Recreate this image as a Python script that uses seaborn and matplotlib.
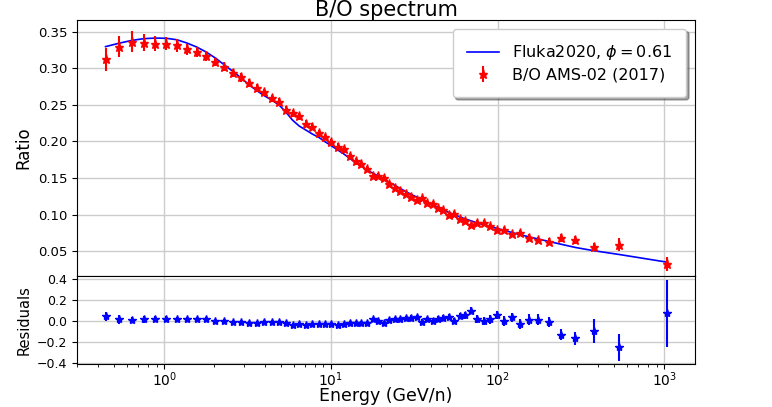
import numpy as np
import pandas as pd
import matplotlib
matplotlib.use("Agg")
import matplotlib.pyplot as plt
import seaborn as sns

# ---------------- data ----------------
energy = [0.445, 0.535, 0.637, 0.754, 0.885, 1.030, 1.192, 1.371, 1.569, 1.788,
          2.029, 2.290, 2.576, 2.888, 3.225, 3.591, 3.988, 4.415, 4.883, 5.377,
          5.896, 6.465, 7.085, 7.756, 8.476, 9.247, 10.07, 10.97, 11.94, 12.96,
          14.06, 15.23, 16.48, 17.82, 19.27, 20.82, 22.47, 24.24, 26.14, 28.16,
          30.33, 32.68, 35.20, 37.90, 40.80, 43.92, 47.29, 51.04, 55.03, 59.28,
          64.02, 69.51, 75.75, 82.74, 90.72, 99.71, 109.9, 121.9, 136.3, 154.0,
          175.9, 203.5, 239.7, 293.4, 380.1, 533.9, 1034.7]

bo_ratio = [0.312, 0.3296, 0.3360, 0.3350, 0.3337, 0.3337, 0.3312, 0.3262, 0.3224, 0.3167,
            0.3085, 0.3023, 0.2941, 0.2874, 0.2800, 0.2736, 0.2671, 0.2590, 0.2538, 0.2433,
            0.2385, 0.2345, 0.2243, 0.2200, 0.2111, 0.2058, 0.1988, 0.1930, 0.1891, 0.1799,
            0.1726, 0.1688, 0.1629, 0.1534, 0.1525, 0.1505, 0.1423, 0.1364, 0.1328, 0.1282,
            0.1238, 0.1198, 0.1223, 0.1160, 0.1143, 0.1084, 0.1057, 0.0993, 0.1014, 0.0946,
            0.0917, 0.0851, 0.0880, 0.0885, 0.0837, 0.0783, 0.0792, 0.0733, 0.0747, 0.0685,
            0.0653, 0.0631, 0.0685, 0.0653, 0.0557, 0.0590, 0.0322]

bo_err = [0.0157, 0.0148, 0.0143, 0.0118, 0.0107, 0.0093, 0.0086, 0.0075, 0.0068, 0.0064,
          0.0060, 0.0060, 0.0055, 0.0055, 0.0055, 0.0055, 0.0052, 0.0050, 0.0050, 0.0050,
          0.0048, 0.0048, 0.0046, 0.0046, 0.0045, 0.0045, 0.0044, 0.0044, 0.0043, 0.0043,
          0.0042, 0.0042, 0.0041, 0.0041, 0.0040, 0.0040, 0.0038, 0.0038, 0.0037, 0.0037,
          0.0036, 0.0036, 0.0036, 0.0036, 0.0036, 0.0036, 0.0036, 0.0036, 0.0037, 0.0037,
          0.0038, 0.0038, 0.0039, 0.0039, 0.0040, 0.0040, 0.0041, 0.0042, 0.0043, 0.0045,
          0.0046, 0.0048, 0.0055, 0.0060, 0.0057, 0.0084, 0.0100]

residual = [0.048, 0.016, 0.010, 0.016, 0.020, 0.017, 0.016, 0.018, 0.016, 0.015,
            0.005, 0.000, -0.010, -0.012, -0.015, -0.015, -0.012, -0.010, -0.012, -0.022,
            -0.038, -0.025, -0.038, -0.032, -0.030, -0.030, -0.030, -0.035, -0.030, -0.015,
            -0.022, -0.015, -0.022, 0.015, 0.000, -0.015, 0.010, 0.020, 0.020, 0.026,
            0.030, 0.035, -0.005, 0.015, 0.000, 0.020, 0.026, 0.040, 0.000, 0.048,
            0.054, 0.100, 0.024, 0.000, 0.015, 0.057, 0.000, 0.035, -0.030, 0.013,
            0.013, -0.010, -0.130, -0.165, -0.095, -0.250, 0.074]

residual_err = [0.043, 0.040, 0.033, 0.032, 0.032, 0.028, 0.025, 0.022, 0.020, 0.020,
                0.018, 0.018, 0.018, 0.018, 0.018, 0.018, 0.018, 0.018, 0.018, 0.018,
                0.018, 0.018, 0.018, 0.018, 0.018, 0.018, 0.018, 0.018, 0.018, 0.018,
                0.018, 0.018, 0.018, 0.018, 0.020, 0.020, 0.020, 0.020, 0.022, 0.022,
                0.024, 0.024, 0.025, 0.025, 0.026, 0.027, 0.028, 0.030, 0.031, 0.032,
                0.034, 0.036, 0.038, 0.040, 0.042, 0.042, 0.044, 0.046, 0.048, 0.050,
                0.050, 0.050, 0.055, 0.063, 0.110, 0.130, 0.318]

model_energy = [0.445, 0.535, 0.637, 0.754, 0.885, 1.030, 1.192, 1.371, 1.569, 1.788,
                2.029, 2.290, 2.576, 2.888, 3.225, 3.591, 3.988, 4.415, 4.883, 5.377,
                5.896, 6.465, 7.085, 7.756, 8.476, 9.247, 10.07, 11.94, 14.06, 16.48,
                19.27, 22.47, 26.14, 30.33, 35.20, 40.80, 47.29, 55.03, 64.02, 75.75,
                90.72, 109.9, 136.3, 175.9, 239.7, 293.4, 380.1, 533.9, 1034.7]
model_ratio = [0.3296, 0.3342, 0.3380, 0.3405, 0.3413, 0.3410, 0.3390, 0.3345, 0.3290, 0.3222,
               0.3140, 0.3048, 0.2960, 0.2870, 0.2775, 0.2695, 0.2625, 0.2565, 0.2500, 0.2400,
               0.2290, 0.2210, 0.2155, 0.2100, 0.2055, 0.1995, 0.1940, 0.1830, 0.1710, 0.1610,
               0.1525, 0.1440, 0.1355, 0.1275, 0.1205, 0.1135, 0.1060, 0.0998, 0.0940, 0.0885,
               0.0835, 0.0783, 0.0725, 0.0665, 0.0595, 0.0550, 0.0505, 0.0455, 0.0350]

title = "B/O spectrum"
model_label = r"Fluka2020, $\phi = 0.61$"
data_label = "B/O AMS-02 (2017)"

# ---------------- figure ----------------
plt.rcParams['font.family'] = ['DejaVu Sans']
plt.rcParams['mathtext.fontset'] = 'dejavusans'

fig = plt.figure(figsize=(7.72, 4.07), dpi=100)
ax = fig.add_axes([77/772, 131/407, 618/772, 256/407])
axr = fig.add_axes([77/772, 43/407, 618/772, 88/407], sharex=ax)

grid_kw = dict(color='#cccccc', linewidth=1.0)

model_df = pd.DataFrame({'E': model_energy, 'ratio': model_ratio})
sns.lineplot(data=model_df, x='E', y='ratio', ax=ax, color='blue',
             linewidth=1.2, label=model_label, legend=False, zorder=3)
eb = ax.errorbar(energy, bo_ratio, yerr=bo_err, fmt='*', color='red',
                 ecolor='red', elinewidth=1.5, markersize=6.5, label=data_label, zorder=4)

ax.set_xscale('log')
ax.set_xlim(0.30, 1530)
ax.set_ylim(0.016, 0.366)
ax.set_yticks([0.05, 0.10, 0.15, 0.20, 0.25, 0.30, 0.35])
ax.grid(True, which='major', **grid_kw)
ax.set_axisbelow(True)
ax.tick_params(axis='x', which='both', labelbottom=False)
ax.tick_params(axis='y', labelsize=9.5)
ax.set_xlabel('')
ax.set_ylabel('Ratio', fontsize=12)
ax.set_title(title, fontsize=15, pad=3)

line_handle = ax.get_lines()[0]
leg = ax.legend([line_handle, eb], [model_label, data_label], loc='upper right',
                fontsize=11.5, frameon=True, fancybox=True, shadow=True,
                framealpha=1.0, borderpad=0.9, labelspacing=0.35,
                handletextpad=0.8, borderaxespad=0.55)

axr.errorbar(energy, residual, yerr=residual_err, fmt='*', color='blue',
             ecolor='blue', elinewidth=1.5, markersize=6, zorder=4)
axr.set_xscale('log')
axr.set_xlim(0.30, 1530)
axr.set_ylim(-0.41, 0.43)
axr.set_yticks([-0.4, -0.2, 0.0, 0.2, 0.4])
axr.grid(True, which='major', **grid_kw)
axr.set_axisbelow(True)
axr.tick_params(axis='y', labelsize=9)
axr.tick_params(axis='x', which='major', labelsize=10, pad=1)
axr.set_xlabel('Energy (GeV/n)', fontsize=12.5, labelpad=-1)
axr.set_ylabel('Residuals', fontsize=10.5)

fig.align_ylabels([ax, axr])
fig.savefig('out.png', dpi=100)
